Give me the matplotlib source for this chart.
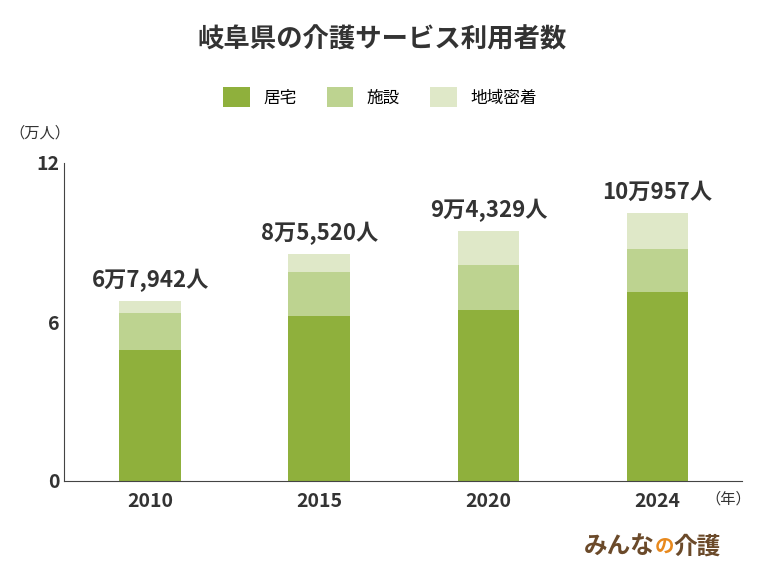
import matplotlib
matplotlib.use("Agg")
import matplotlib.pyplot as plt
import numpy as np

plt.rcParams["font.family"] = "Noto Sans CJK JP"

years = ["2010", "2015", "2020", "2024"]
kyotaku = [4.94, 6.23, 6.45, 7.13]
shisetsu = [1.40, 1.66, 1.70, 1.62]
chiiki = [0.45, 0.66, 1.28, 1.35]
totals = [6.7942, 8.5520, 9.4329, 10.0957]
total_labels = ["6万7,942人", "8万5,520人", "9万4,329人", "10万957人"]
series_names = ["居宅", "施設", "地域密着"]
colors = ["#8fb03c", "#bdd390", "#dfe8c8"]

W, H = 760, 570
fig = plt.figure(figsize=(W/100, H/100), dpi=100)
ax = fig.add_axes([64/W, 1-481/H, 678/W, (481-163)/H])
x = np.arange(len(years))
bw = 0.365
ax.bar(x, kyotaku, bw, color=colors[0], label=series_names[0])
ax.bar(x, shisetsu, bw, bottom=kyotaku, color=colors[1], label=series_names[1])
bot2 = np.array(kyotaku) + np.array(shisetsu)
ax.bar(x, chiiki, bw, bottom=bot2, color=colors[2], label=series_names[2])
for xi, t, lab in zip(x, totals, total_labels):
    ax.text(xi, t + 0.35, lab, ha="center", va="bottom", fontsize=16, fontweight="bold", color="#333333")
ax.set_xlim(-0.51, 3.5)
ax.set_ylim(0, 12)
ax.set_yticks([0, 6, 12])
ax.set_xticks(x)
ax.set_xticklabels(years, fontsize=14, fontweight="bold", color="#333333")
ax.tick_params(axis="y", labelsize=14, colors="#333333", length=0)
for l in ax.get_yticklabels():
    l.set_fontweight("bold")
ax.tick_params(axis="x", length=0, pad=8)
for s in ["top", "right"]:
    ax.spines[s].set_visible(False)
ax.spines["left"].set_color("#444444")
ax.spines["bottom"].set_color("#444444")
fig.text(382/W, 1-40/H, "岐阜県の介護サービス利用者数", ha="center", va="center", fontsize=19, fontweight="bold", color="#333333")
fig.legend(loc="center", bbox_to_anchor=(380/W, 1-97/H), ncol=3, frameon=False, fontsize=12,
           handlelength=1.6, handleheight=1.4, columnspacing=1.8)
fig.text(40/W, 1-133/H, "（万人）", ha="center", va="center", fontsize=11, color="#333333")
fig.text(728/W, 1-499/H, "（年）", ha="center", va="center", fontsize=11, color="#333333")
fig.text(655/W, 1-547/H, "みんな", ha="right", va="center", fontsize=17, fontweight="bold", color="#6b4a2a")
fig.text(655/W, 1-547/H, "の", ha="left", va="center", fontsize=14, fontweight="bold", color="#e8891d")
fig.text(673/W, 1-547/H, "介護", ha="left", va="center", fontsize=17, fontweight="bold", color="#6b4a2a")
fig.savefig("out.png", dpi=100)
